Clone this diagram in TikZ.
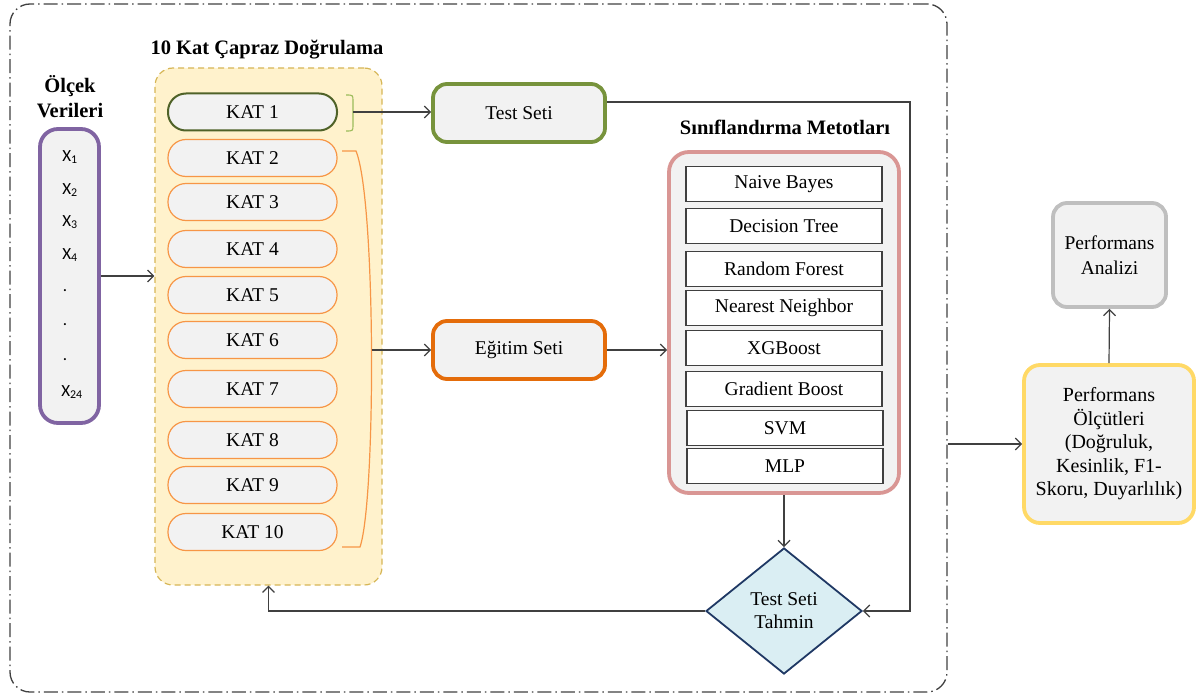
\documentclass[tikz,border=0pt]{standalone}
\usepackage{fontspec}
\setmainfont{Liberation Serif}
\newfontfamily\xfont{Carlito}
\usetikzlibrary{arrows.meta,shapes.geometric,calc}
\definecolor{lineC}{HTML}{404040}
\definecolor{boxfill}{HTML}{F2F2F2}
\definecolor{yfill}{HTML}{FFF2CC}
\definecolor{ydraw}{HTML}{D6B656}
\definecolor{purp}{HTML}{8064A2}
\definecolor{grn}{HTML}{77933C}
\definecolor{dgrn}{HTML}{4F6228}
\definecolor{lgrn}{HTML}{9BBB59}
\definecolor{orn}{HTML}{E46C0A}
\definecolor{lorn}{HTML}{F79646}
\definecolor{pnk}{HTML}{D99694}
\definecolor{navy}{HTML}{1F3864}
\definecolor{dfill}{HTML}{DAEEF3}
\definecolor{ygold}{HTML}{FFD966}
\definecolor{gry}{HTML}{BFBFBF}
\begin{document}
\begin{tikzpicture}[x=1pt,y=-1pt,
  txt/.style={font=\fontsize{19.5}{23}\selectfont},
  ttl/.style={font=\fontsize{20.5}{25}\selectfont\bfseries, align=center},
  conn/.style={draw=lineC, line width=1.2pt, -{Straight Barb[length=6pt,width=12pt]}},
  katbox/.style={draw=lorn, fill=boxfill, line width=1.2pt, rounded corners=18pt,
     minimum width=169pt, minimum height=37pt, inner sep=0pt, txt},
  bigbox/.style={fill=boxfill, line width=3.8pt, inner sep=0pt, align=center, txt},
  mbox/.style={draw=lineC, fill=white, line width=1.1pt, minimum width=196pt,
     minimum height=35pt, inner sep=0pt, txt},
  xlab/.style={font=\xfont\fontsize{17}{20}\selectfont, anchor=base}
]
\useasboundingbox (0,0) rectangle (1198,695);

% outer frame
\node[draw=lineC, line width=1.3pt, dash pattern=on 14pt off 4pt on 1.5pt off 4pt,
  rounded corners=20pt, minimum width=937pt, minimum height=688pt, inner sep=0pt]
  (outer) at (478.5,348) {};

% cross-validation container
\node[draw=ydraw, fill=yfill, line width=1.2pt, dash pattern=on 6pt off 4pt,
  rounded corners=18pt, minimum width=227pt, minimum height=517pt, inner sep=0pt]
  (cv) at (268.5,326.5) {};
\node[ttl] (cvt) at (267,50) {10 Kat Çapraz Doğrulama};

% scale data
\node[ttl] (olt) at (70,97) {Ölçek\\Verileri};
\node[draw=purp, fill=boxfill, line width=3.8pt, rounded corners=18pt,
  minimum width=59pt, minimum height=294pt, inner sep=0pt] (pur) at (69.5,276) {};
\node[xlab] (x1) at (70,161) {X\textsubscript{1}};
\node[xlab] (x2) at (70,194) {X\textsubscript{2}};
\node[xlab] (x3) at (70,226) {X\textsubscript{3}};
\node[xlab] (x4) at (70,259) {X\textsubscript{4}};
\node[xlab] (d1) at (65,291) {.};
\node[xlab] (d2) at (65,325) {.};
\node[xlab] (d3) at (65,360) {.};
\node[xlab] (x24) at (72,396) {X\textsubscript{24}};

% folds
\node[katbox, draw=dgrn, line width=2pt] (k1) at (252.5,112) {KAT 1};
\node[katbox] (k2) at (252.5,158) {KAT 2};
\node[katbox] (k3) at (252.5,202) {KAT 3};
\node[katbox] (k4) at (252.5,249) {KAT 4};
\node[katbox] (k5) at (252.5,295) {KAT 5};
\node[katbox] (k6) at (252.5,340) {KAT 6};
\node[katbox] (k7) at (252.5,389) {KAT 7};
\node[katbox] (k8) at (252.5,440) {KAT 8};
\node[katbox] (k9) at (252.5,485) {KAT 9};
\node[katbox] (k10) at (252.5,532) {KAT 10};

% brackets
\draw[draw=lgrn, line width=1.1pt] (346,95) .. controls (353,95) .. (353,101) -- (353,125) .. controls (353,131) .. (346,131);
\coordinate (b1) at (353,112);
\draw[draw=lorn, line width=1.2pt] (342,151) -- (356,151) .. controls (376,200) and (376,500) .. (360,547) -- (342,547);
\coordinate (b2) at (371.5,350);

% sets
\node[bigbox, draw=grn, rounded corners=14pt, minimum width=172pt, minimum height=58pt] (test) at (519,113) {Test Seti};
\node[bigbox, draw=orn, rounded corners=14pt, minimum width=172pt, minimum height=58pt] (egitim) at (519,350) {Eğitim Seti};

% classifiers
\node[ttl] (clt) at (785,127) {Sınıflandırma Metotları};
\node[bigbox, draw=pnk, rounded corners=20pt, minimum width=230pt, minimum height=341pt] (cls) at (784,322.5) {};
\node[mbox] (m1) at (784,184) {Naive Bayes};
\node[mbox] (m2) at (784,226) {Decision Tree};
\node[mbox] (m3) at (784,269) {Random Forest};
\node[mbox] (m4) at (784,308) {Nearest Neighbor};
\node[mbox] (m5) at (784,348) {XGBoost};
\node[mbox] (m6) at (784,389) {Gradient Boost};
\node[mbox] (m7) at (785,428) {SVM};
\node[mbox] (m8) at (785,466) {MLP};

% prediction diamond
\node[diamond, aspect=1.24, minimum width=156pt, minimum height=126pt, inner sep=0pt,
  draw=navy, fill=dfill, line width=1.8pt, align=center, txt] (dia) at (784,611) {Test Seti\\Tahmin};

% performance
\node[bigbox, draw=ygold, rounded corners=16pt, minimum width=170pt, minimum height=158pt,
  font=\fontsize{20}{23.5}\selectfont] (perf) at (1109,444)
  {Performans\\Ölçütleri\\(Doğruluk,\\Kesinlik, F1-\\Skoru, Duyarlılık)};
\node[bigbox, draw=gry, rounded corners=14pt, minimum width=113pt, minimum height=104pt,
  font=\fontsize{19.5}{25}\selectfont] (anal) at (1109.5,255) {Performans\\Analizi};

% connectors
\draw[conn] (pur.east) -- (pur.east -| cv.west);
\draw[conn] (b1) -- (b1 -| test.west);
\draw[conn] (b2) -- (egitim.west);
\draw[conn] (egitim.east) -- (egitim.east -| cls.west);
\coordinate (tcor) at (910,611);
\draw[conn] ($(test.east)+(0,-11)$) -| (tcor) -- (dia.east);
\draw[conn] (cls.south) -- (dia.north);
\draw[conn] (dia.west) -| (cv.south);
\draw[conn] (perf.west -| outer.east) -- (perf.west);
\draw[conn] (perf.north) -- (anal.south);
\end{tikzpicture}
\end{document}
